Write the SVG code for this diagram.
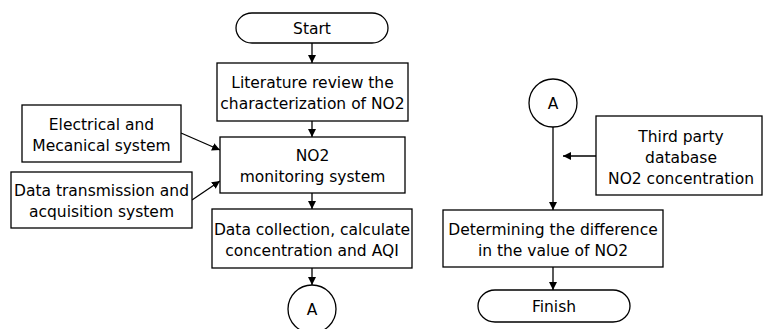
<svg xmlns="http://www.w3.org/2000/svg" width="765" height="329" viewBox="0 0 765 329">
<style>
.b{fill:#fff;stroke:#000;stroke-width:1.3}
.c{fill:none;stroke:#000;stroke-width:1.3}
text{font-family:"DejaVu Sans","Liberation Sans",sans-serif;font-size:15.5px;text-anchor:middle;fill:#000}
</style>
<defs>
<marker id="ah" viewBox="0 0 10 10" refX="10" refY="5" markerWidth="8" markerHeight="8" markerUnits="userSpaceOnUse" orient="auto">
<path d="M0,0 L10,5 L0,10 z" fill="#000"/>
</marker>
</defs>
<rect width="765" height="329" fill="#fff"/>
<g id="connectors">
<line class="c" x1="312" y1="43" x2="312" y2="63" marker-end="url(#ah)"/>
<line class="c" x1="312" y1="121" x2="312" y2="137" marker-end="url(#ah)"/>
<line class="c" x1="312" y1="193" x2="312" y2="209" marker-end="url(#ah)"/>
<line class="c" x1="312" y1="268" x2="312" y2="285" marker-end="url(#ah)"/>
<line class="c" x1="181" y1="133" x2="220" y2="150" marker-end="url(#ah)"/>
<line class="c" x1="192" y1="200" x2="220" y2="181" marker-end="url(#ah)"/>
<line class="c" x1="553" y1="127" x2="553" y2="210" marker-end="url(#ah)"/>
<line class="c" x1="596" y1="156" x2="563" y2="156" marker-end="url(#ah)"/>
<line class="c" x1="553" y1="267" x2="553" y2="290" marker-end="url(#ah)"/>
</g>
<g id="start">
<rect class="b" x="236" y="13" width="152" height="30" rx="16" ry="15"/>
<text x="312" y="34">Start</text>
</g>
<g id="literature">
<rect class="b" x="217" y="63" width="191" height="58"/>
<text x="312.5" y="88">Literature review the</text>
<text x="312.5" y="109">characterization of NO2</text>
</g>
<g id="electrical">
<rect class="b" x="22" y="105" width="159" height="57"/>
<text x="101.5" y="129.5">Electrical and</text>
<text x="101.5" y="150.5">Mecanical system</text>
</g>
<g id="transmission">
<rect class="b" x="11" y="172" width="181" height="56"/>
<text x="101.5" y="196">Data transmission and</text>
<text x="101.5" y="217">acquisition system</text>
</g>
<g id="monitoring">
<rect class="b" x="220" y="137" width="185" height="56"/>
<text x="312.5" y="161">NO2</text>
<text x="312.5" y="182">monitoring system</text>
</g>
<g id="collection">
<rect class="b" x="212" y="209" width="200" height="59"/>
<text x="312" y="234.5">Data collection, calculate</text>
<text x="312" y="255.5">concentration and AQI</text>
</g>
<g id="connectorA1">
<circle class="b" cx="312" cy="309" r="24"/>
<text x="312" y="315">A</text>
</g>
<g id="connectorA2">
<circle class="b" cx="553" cy="103" r="24"/>
<text x="553" y="109">A</text>
</g>
<g id="thirdparty">
<rect class="b" x="596" y="116" width="166" height="79"/>
<text x="681" y="141.5">Third party</text>
<text x="681" y="162.5">database</text>
<text x="681" y="183.5">NO2 concentration</text>
</g>
<g id="determining">
<rect class="b" x="443" y="210" width="220" height="57"/>
<text x="553" y="234.5">Determining the difference</text>
<text x="553" y="255.5">in the value of NO2</text>
</g>
<g id="finish">
<rect class="b" x="478" y="290" width="152" height="32" rx="17" ry="16"/>
<text x="554" y="312">Finish</text>
</g>
</svg>
